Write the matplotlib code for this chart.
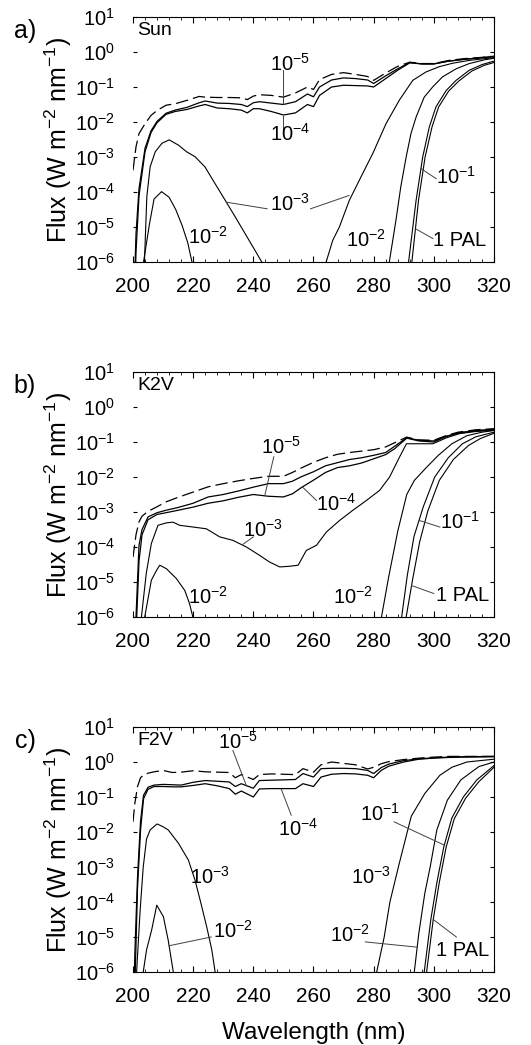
import numpy as np
import matplotlib
matplotlib.use('Agg')
import matplotlib.pyplot as plt
from matplotlib.ticker import MultipleLocator, NullLocator

plt.rcParams['font.family'] = ['Liberation Sans', 'DejaVu Sans']
plt.rcParams['mathtext.fontset'] = 'custom'
plt.rcParams['mathtext.rm'] = 'Liberation Sans'
plt.rcParams['mathtext.it'] = 'Liberation Sans:italic'
plt.rcParams['mathtext.default'] = 'regular'

# ------------------------------------------------------------
# Datos: log10 del flujo (W m-2 nm-1)
# ------------------------------------------------------------
# a) Sol
wl_a = [200, 201, 202, 204, 206, 208, 211, 214, 218, 222, 224, 228, 232, 236, 238,
        240, 242, 246, 250, 254, 258, 260, 262, 266, 270, 274, 278, 280, 284, 288,
        292, 296, 300, 305, 310, 315, 320]
toa_a = [-3.38, -2.71, -2.33, -2.05, -1.81, -1.67, -1.52, -1.48, -1.38, -1.27, -1.29, -1.30,
         -1.30, -1.31, -1.36, -1.26, -1.22, -1.24, -1.29, -1.17, -1.00, -1.07, -0.79, -0.64,
         -0.59, -0.64, -0.70, -0.81, -0.60, -0.41, -0.29, -0.33, -0.33, -0.24, -0.19, -0.16, -0.12]
sun_5 = [-8, -5.2, -3.9, -2.75, -2.25, -1.98, -1.75, -1.66, -1.58, -1.45, -1.40, -1.46,
         -1.47, -1.50, -1.56, -1.45, -1.42, -1.46, -1.50, -1.42, -1.20, -1.28, -1.00, -0.80,
         -0.74, -0.76, -0.80, -0.90, -0.68, -0.48, -0.30, -0.34, -0.34, -0.26, -0.21, -0.17, -0.13]
sun_4 = [-9, -5.7, -4.1, -2.85, -2.30, -2.02, -1.78, -1.70, -1.64, -1.54, -1.50, -1.60,
         -1.62, -1.66, -1.74, -1.62, -1.62, -1.70, -1.80, -1.74, -1.50, -1.56, -1.24, -1.00,
         -0.95, -0.96, -0.97, -1.00, -0.76, -0.52, -0.31, -0.34, -0.34, -0.26, -0.21, -0.17, -0.13]
sun_3_izq = [(203.8, -6), (204.6, -4.13), (205.7, -3.28), (207.4, -2.85), (209.6, -2.61),
             (212.0, -2.51), (215.1, -2.66), (217.8, -2.85), (220.6, -2.99), (223.9, -3.28),
             (227.2, -3.75), (230.6, -4.23), (233.9, -4.70), (237.2, -5.18), (240.5, -5.66),
             (242.8, -6)]
sun_2_izq = [(203.5, -6), (205.5, -4.9), (207.0, -4.2), (209.5, -3.99), (212.0, -4.15),
             (214.2, -4.5), (216.3, -4.95), (218.2, -5.45), (219.6, -6)]
sun_3_der = [(264.2, -6), (266.4, -5.38), (268.6, -5.0), (271.9, -4.24), (276.3, -3.48),
             (279.7, -2.90), (284.1, -2.05), (288.5, -1.38), (293.0, -0.81), (297.4, -0.57),
             (301.8, -0.42), (306.3, -0.32), (311.8, -0.24), (320, -0.16)]
sun_2_der = [(285.2, -6), (287.4, -4.81), (289.0, -3.86), (290.8, -3.0), (292.4, -2.33),
             (294.1, -1.86), (296.8, -1.29), (299.6, -1.0), (302.9, -0.71), (307.4, -0.48),
             (311.8, -0.33), (317.0, -0.22), (320, -0.18)]
sun_1 = [(291.6, -6), (294.1, -4.24), (296.3, -3.0), (298.5, -2.14), (300.7, -1.57),
         (304.1, -1.10), (307.4, -0.81), (311.8, -0.52), (316.0, -0.36), (320, -0.26)]
sun_pal = [(292.7, -6), (294.9, -4.24), (297.1, -3.0), (299.4, -2.14), (301.6, -1.57),
           (304.9, -1.12), (308.3, -0.83), (312.7, -0.54), (316.8, -0.38), (320, -0.30)]

# b) K2V
wl_b = [200, 201, 202, 203, 205, 208, 211, 215, 220, 225, 230, 235, 240, 245, 250, 253,
        256, 260, 264, 268, 272, 276, 280, 284, 287, 291, 295, 300, 304, 308, 314, 320]
toa_b = [-4.29, -3.65, -3.28, -3.12, -2.98, -2.85, -2.71, -2.58, -2.43, -2.28, -2.19, -2.11,
         -2.04, -1.98, -1.98, -1.87, -1.74, -1.58, -1.45, -1.35, -1.30, -1.26, -1.22, -1.14,
         -1.02, -0.86, -0.94, -0.95, -0.82, -0.72, -0.65, -0.62]
k_5 = [-8, -6.0, -3.95, -3.50, -3.14, -3.02, -2.95, -2.87, -2.75, -2.57, -2.50, -2.40,
       -2.29, -2.19, -2.19, -2.12, -1.99, -1.85, -1.68, -1.59, -1.50, -1.45, -1.38, -1.30,
       -1.12, -0.88, -0.95, -0.97, -0.84, -0.74, -0.67, -0.64]
k_4 = [-8, -6.5, -4.4, -3.65, -3.22, -3.07, -3.02, -2.95, -2.86, -2.75, -2.68, -2.58,
       -2.50, -2.55, -2.57, -2.48, -2.30, -2.09, -1.87, -1.73, -1.68, -1.60, -1.48, -1.36,
       -1.19, -0.89, -0.97, -1.00, -0.85, -0.75, -0.68, -0.65]
k_3 = [(202.8, -6), (204.4, -4.76), (206.1, -3.90), (208.3, -3.38), (211.1, -3.31),
       (213.3, -3.29), (215.5, -3.38), (220, -3.43), (224.4, -3.48), (228.8, -3.71),
       (233.2, -3.81), (237.7, -4.0), (242.1, -4.24), (245.4, -4.43), (248.8, -4.57),
       (252.1, -4.55), (254.9, -4.52), (257.6, -4.10), (261, -3.95), (264.3, -3.57),
       (268.7, -3.24), (273.1, -2.95), (277.6, -2.67), (282, -2.38), (285.3, -2.0),
       (288.6, -1.43), (290.9, -1.05), (295.3, -1.05), (299.7, -1.05), (304.2, -0.88),
       (308.6, -0.76), (314, -0.70), (320, -0.67)]
k_2_izq = [(203.9, -6), (206.1, -4.95), (207.8, -4.67), (208.9, -4.52), (211.1, -4.62),
           (214.4, -4.90), (217.2, -5.24), (218.8, -5.62), (219.9, -6)]
k_2_der = [(282.6, -6), (285, -4.85), (288, -3.55), (291, -2.5), (293.5, -2.1),
           (297.5, -1.73), (301.5, -1.38), (306, -1.05), (311, -0.82), (316, -0.72), (320, -0.67)]
k_1 = [(289.3, -6), (291.2, -4.8), (293.4, -3.7), (296.5, -2.85), (300.3, -2.0),
       (304.8, -1.45), (309.5, -1.05), (314, -0.85), (320, -0.72)]
k_pal = [(290.8, -6), (293, -4.9), (295.3, -3.85), (298, -2.97), (301.8, -2.1),
         (306.5, -1.5), (311.5, -1.1), (315.5, -0.9), (320, -0.75)]

# c) F2V
wl_c = [200, 200.6, 201.5, 202.5, 203.5, 205, 207, 210, 213, 216, 220, 224, 228, 232, 234,
        236, 240, 242, 246, 250, 254, 256.5, 260, 262.5, 266, 270, 274, 278, 280, 282.5,
        285, 290, 295, 300, 305, 310, 320]
toa_c = [-1.71, -1.19, -0.70, -0.45, -0.37, -0.32, -0.28, -0.24, -0.30, -0.29, -0.25, -0.28,
         -0.29, -0.30, -0.45, -0.36, -0.50, -0.36, -0.34, -0.35, -0.36, -0.19, -0.29, -0.08,
         0.0, -0.04, -0.08, -0.20, -0.15, -0.05, 0.01, 0.07, 0.11, 0.14, 0.16, 0.16, 0.16]
f_5 = [-8, -5.5, -3.3, -1.7, -0.95, -0.72, -0.66, -0.64, -0.65, -0.66, -0.58, -0.53,
       -0.55, -0.57, -0.70, -0.62, -0.75, -0.53, -0.52, -0.51, -0.50, -0.33, -0.43, -0.19,
       -0.18, -0.18, -0.19, -0.24, -0.33, -0.16, -0.06, 0.04, 0.09, 0.12, 0.14, 0.15, 0.16]
f_4 = [-9, -6.5, -3.6, -1.95, -1.05, -0.78, -0.70, -0.70, -0.71, -0.71, -0.67, -0.62,
       -0.68, -0.76, -0.92, -0.83, -1.00, -0.77, -0.76, -0.76, -0.76, -0.62, -0.70, -0.43,
       -0.35, -0.33, -0.34, -0.38, -0.45, -0.24, -0.12, 0.0, 0.08, 0.11, 0.13, 0.14, 0.15]
f_3_izq = [(201.2, -6), (202.4, -4.2), (203.4, -3.0), (204.5, -2.2), (205.7, -1.94),
           (208.0, -1.77), (210, -1.85), (211.7, -1.94), (215.1, -2.32), (218.4, -2.8),
           (220.6, -3.37), (222.3, -3.94), (224.5, -4.71), (226.2, -5.37), (227.3, -6)]
f_2_izq = [(203.4, -6), (204.5, -5.37), (206.2, -4.8), (207.9, -4.09), (210.1, -4.42),
           (211.7, -5.09), (213.4, -6)]
f_3_der = [(281, -6), (283.5, -5.0), (285.4, -4.0), (288.5, -2.9), (292.5, -1.55),
           (297, -0.9), (302, -0.38), (306, -0.15), (311, 0.0), (320, 0.08)]
f_2_der = [(293.5, -6), (295, -4.9), (297, -3.75), (298.8, -2.99), (301, -1.94),
           (304.5, -1.09), (309, -0.51), (315, -0.13), (320, 0.0)]
f_1 = [(296.8, -6), (299, -4.5), (301, -3.45), (303.3, -2.43), (306, -1.6),
       (309.8, -1.0), (314.2, -0.52), (320, -0.10)]
f_pal = [(297.6, -6), (299.8, -4.5), (301.8, -3.45), (304.1, -2.43), (306.8, -1.62),
         (310.6, -1.03), (315, -0.56), (320, -0.15)]

# etiquetas de curvas: (texto, nm, log10 flujo)
etiq_a = [('10$^{-5}$', 252.1, -0.33), ('10$^{-4}$', 252.1, -2.33), ('10$^{-3}$', 252.1, -4.33),
          ('10$^{-2}$', 224.9, -5.29), ('10$^{-2}$', 277.6, -5.38), ('10$^{-1}$', 307.5, -3.57),
          ('1 PAL', 308.6, -5.38)]
lineas_a = [[(249.9, -0.51), (249.9, -1.49)], [(249.9, -1.83), (249.9, -2.2)],
            [(231, -4.29), (244.6, -4.48)], [(259.0, -4.48), (271.8, -4.1)],
            [(295.7, -3.33), (300.8, -3.62)], [(293.9, -5.05), (299.7, -5.33)]]
etiq_b = [('10$^{-5}$', 249.1, -1.14), ('10$^{-4}$', 267.6, -2.76), ('10$^{-3}$', 243.2, -3.52),
          ('10$^{-2}$', 224.9, -5.43), ('10$^{-2}$', 273.1, -5.43), ('10$^{-1}$', 308.6, -3.29),
          ('1 PAL', 309.7, -5.38)]
lineas_b = [[(246.8, -1.42), (243.8, -2.53)], [(256.5, -2.3), (261.0, -2.67)],
            [(236.6, -3.92), (240.0, -3.71)], [(295.1, -3.24), (302.0, -3.43)],
            [(292.6, -5.1), (300.0, -5.33)]]
etiq_c = [('10$^{-5}$', 235.0, 0.57), ('10$^{-4}$', 254.9, -1.90), ('10$^{-3}$', 225.5, -3.29),
          ('10$^{-2}$', 233.2, -4.81), ('10$^{-1}$', 282.0, -1.48), ('10$^{-3}$', 279.2, -3.29),
          ('10$^{-2}$', 272.0, -4.95), ('1 PAL', 309.7, -5.38)]
lineas_c = [[(233.2, 0.33), (237.7, -0.68)], [(249.3, -0.78), (252.6, -1.52)],
            [(212.0, -5.25), (226.0, -5.0)], [(286.8, -1.71), (303.6, -2.38)],
            [(277.2, -5.14), (294.4, -5.29)], [(299.8, -4.5), (307.5, -5.0)]]

paneles = [
    ('a)', 'Sun', wl_a, toa_a, sun_5, sun_4,
     [sun_3_izq, sun_2_izq, sun_3_der, sun_2_der, sun_1, sun_pal], etiq_a, lineas_a),
    ('b)', 'K2V', wl_b, toa_b, k_5, k_4,
     [k_3, k_2_izq, k_2_der, k_1, k_pal], etiq_b, lineas_b),
    ('c)', 'F2V', wl_c, toa_c, f_5, f_4,
     [f_3_izq, f_2_izq, f_3_der, f_2_der, f_1, f_pal], etiq_c, lineas_c),
]

W, H = 531, 1045
fig = plt.figure(figsize=(W / 100, H / 100), dpi=100)
tops = [17, 372, 727]
letra_y = [31, 386, 741]

for i, (letra, estrella, wl, toa, c5, c4, otras, etiq, lineas) in enumerate(paneles):
    ax = fig.add_axes([133 / W, 1 - (tops[i] + 245) / H, 361 / W, 245 / H])
    ax.set_yscale('log')

    ax.plot(wl, 10 ** np.array(toa), color='k', lw=0.9, ls=(0, (10, 4)))
    ax.plot(wl, 10 ** np.array(c5), color='k', lw=0.9)
    ax.plot(wl, 10 ** np.array(c4), color='k', lw=0.9)
    for curva in otras:
        x, y = zip(*curva)
        ax.plot(x, 10 ** np.array(y), color='k', lw=0.8)

    for txt, x, y in etiq:
        ax.text(x, 10 ** y, txt, ha='center', va='center', fontsize=14.5)
    for (x1, y1), (x2, y2) in lineas:
        ax.plot([x1, x2], [10 ** y1, 10 ** y2], color='0.25', lw=0.7)

    ax.set_xlim(200, 320)
    ax.set_ylim(1e-6, 1e1)
    ax.set_xticks(range(200, 321, 20))
    ax.xaxis.set_minor_locator(MultipleLocator(4))
    exps = np.arange(-6, 2)
    ax.set_yticks(10.0 ** exps, ['10$^{%d}$' % e for e in exps])
    ax.yaxis.set_minor_locator(NullLocator())
    ax.tick_params(which='both', direction='in', top=True, right=True)
    ax.tick_params(axis='x', which='major', length=4.5, pad=11, labelsize=15)
    ax.tick_params(axis='x', which='minor', length=2.2)
    ax.tick_params(axis='y', which='major', length=3, pad=13, labelsize=14.5)
    for s in ax.spines.values():
        s.set_linewidth(0.8)
    ax.spines['left'].set_visible(False)

    ax.text(0.012, 0.943, estrella, transform=ax.transAxes, fontsize=14,
            ha='left', va='center')
    ax.set_ylabel('Flux (W m$^{-2}$ nm$^{-1}$)', fontsize=18)
    ax.yaxis.set_label_coords(-0.163, 0.5)
    fig.text(25 / W, 1 - letra_y[i] / H, letra, fontsize=18, ha='center', va='center')

    if i == 2:
        ax.set_xlabel('Wavelength (nm)', fontsize=17.5)
        ax.xaxis.set_label_coords(0.5, -0.205)

fig.savefig('out.png', dpi=100)
